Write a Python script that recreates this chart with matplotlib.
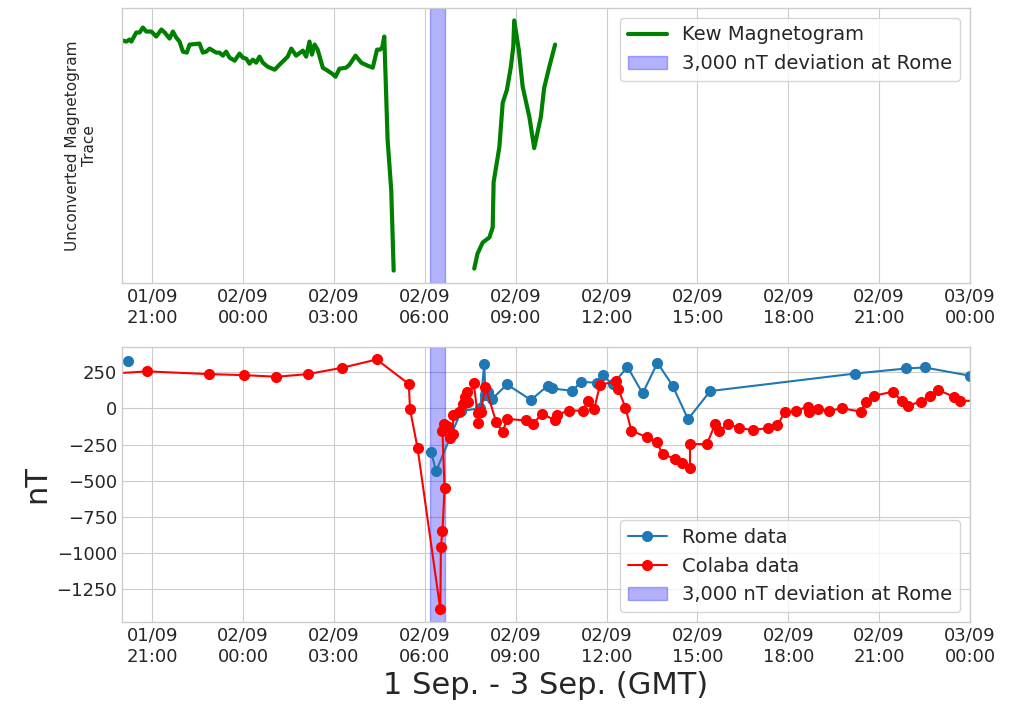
import datetime as dt
import numpy as np
import matplotlib
matplotlib.use('Agg')
import matplotlib.pyplot as plt
import matplotlib.dates as mdates
from matplotlib.ticker import MultipleLocator

# times are hours after 1 Sep 1859 00:00 GMT
kew_hours = [20.03, 20.14, 20.25, 20.31, 20.38, 20.47, 20.58, 20.69, 20.80, 20.97,
             21.13, 21.30, 21.41, 21.57, 21.68, 21.79, 21.90, 22.01, 22.14, 22.23,
             22.56, 22.67, 22.78, 22.89, 23.11, 23.22, 23.33, 23.44, 23.55, 23.72,
             23.88, 23.99, 24.10, 24.21, 24.32, 24.43, 24.54, 24.65, 24.81, 25.04,
             25.20, 25.37, 25.47, 25.59, 25.75, 25.97, 26.08, 26.19, 26.27, 26.36,
             26.46, 26.63, 26.79, 26.94, 27.05, 27.18, 27.40, 27.51, 27.71, 27.90,
             28.11, 28.28, 28.42, 28.52, 28.59, 28.66, 28.77, 28.89, 28.97,
             30.0,
             31.63, 31.74, 31.91, 32.13, 32.24, 32.27, 32.46, 32.57, 32.71, 32.84,
             32.92, 32.95, 33.10, 33.23, 33.45, 33.61, 33.83, 33.94, 34.11, 34.30]
kew_trace = [242, 241, 243, 241, 245, 250, 250, 255, 251, 251,
             246, 253, 250, 244, 251, 245, 241, 231, 230, 238,
             239, 230, 231, 234, 230, 230, 227, 231, 225, 222,
             229, 225, 224, 219, 223, 220, 226, 220, 216, 213,
             218, 223, 226, 234, 227, 232, 226, 241, 228, 238,
             233, 215, 212, 209, 206, 214, 215, 218, 227, 220,
             217, 215, 233, 233, 235, 246, 143, 93, 13,
             np.nan,
             15, 30, 41, 46, 56, 101, 136, 180, 193, 216,
             236, 262, 233, 196, 166, 135, 166, 195, 216, 238]

rome_hours = [19.6, 20.20, 25.0,
              30.21, 30.37, 31.20, 31.83, 31.96, 32.00, 32.07, 32.22, 32.71,
              33.50, 34.05, 34.20, 34.86, 35.17, 35.68, 35.87, 36.20, 36.69,
              37.19, 37.68, 38.18, 38.69, 39.42, 44.20, 45.90, 46.50, 48.0]
rome_nT = [335, 325, np.nan,
           -304, -435, -18, 0, 309, 92, 115, 64, 165,
           58, 154, 137, 121, 183, 176, 229, 165, 286,
           103, 314, 156, -75, 119, 240, 275, 282, 225]

colaba_hours = [19.0, 20.84, 22.88, 24.04, 25.10, 26.13, 27.27, 28.41, 29.47, 29.51,
                29.76, 30.51, 30.53, 30.58, 30.65, 30.58, 30.62, 30.73, 30.84, 30.92,
                30.94, 31.14, 31.25, 31.34, 31.38, 31.41, 31.61, 31.74, 31.76, 31.85,
                32.00, 32.35, 32.57, 32.71, 33.34, 33.56, 33.87, 34.31, 34.35, 34.75,
                35.21, 35.40, 35.59, 35.78, 36.31, 36.39, 36.62, 36.82, 37.33, 37.65,
                37.85, 38.27, 38.49, 38.75, 38.76, 39.31, 39.59, 39.72, 40.01, 40.38,
                40.82, 41.34, 41.64, 41.89, 42.25, 42.66, 42.69, 42.99, 43.35, 43.77,
                44.40, 44.56, 44.83, 45.46, 45.74, 45.96, 46.37, 46.67, 46.95, 47.47,
                47.67, 48.3]
colaba_nT = [231, 255, 236, 229, 218, 236, 280, 337, 168, -7,
             -275, -1389, -955, -847, -552, -160, -107, -124, -204, -180,
             -43, -23, 32, 80, 115, 46, 172, -34, -103, -23,
             149, -92, -165, -73, -84, -110, -38, -84, -45, -16,
             -16, 53, -7, 161, 188, 133, 5, -155, -199, -233,
             -316, -350, -378, -412, -247, -247, -107, -160, -107, -137,
             -149, -137, -114, -27, -16, 12, -27, -7, -18, 0,
             -23, 46, 87, 115, 51, 19, 46, 87, 126, 80,
             53, 50]

span_hours = (30.16, 30.68)
start_hour, end_hour = 20.0, 48.0

base = dt.datetime(1859, 9, 1)


def to_time(hours):
    return [base + dt.timedelta(hours=h) for h in hours]


plt.style.use('seaborn-v0_8-whitegrid')
plt.rcParams['font.family'] = ['DejaVu Sans']
fig = plt.figure(figsize=(10.1, 7.06), dpi=100)
ax1 = fig.add_axes([0.1208, 0.599, 0.8396, 0.3897])
ax2 = fig.add_axes([0.1208, 0.119, 0.8396, 0.3895])

span = to_time(span_hours)
xlim = to_time([start_hour, end_hour])

ax1.plot(to_time(kew_hours), kew_trace, color='green', linewidth=3,
         label='Kew Magnetogram')
ax1.axvspan(span[0], span[1], color='blue', alpha=0.3,
            label='3,000 nT deviation at Rome')
ax1.set_yticks([])
ax1.set_ylabel('Unconverted Magnetogram\nTrace', fontsize=11, labelpad=18)
ax1.legend(loc='upper right', fontsize=14, frameon=True)

ax2.plot(to_time(rome_hours), rome_nT, '-o', color='#1f77b4', markersize=7,
         linewidth=1.5, label='Rome data')
ax2.plot(to_time(colaba_hours), colaba_nT, '-o', color='red', markersize=7,
         linewidth=1.5, label='Colaba data')
ax2.axvspan(span[0], span[1], color='blue', alpha=0.3,
            label='3,000 nT deviation at Rome')
ax2.yaxis.set_major_locator(MultipleLocator(250))
ax2.set_ylabel('nT', fontsize=22)
ax2.set_xlabel('1 Sep. - 3 Sep. (GMT)', fontsize=22)
ax2.legend(loc='lower right', fontsize=14, frameon=True)

for ax in (ax1, ax2):
    ax.set_xlim(xlim)
    ax.xaxis.set_major_locator(mdates.HourLocator(byhour=range(0, 24, 3)))
    ax.xaxis.set_major_formatter(mdates.DateFormatter('%d/%m\n%H:%M'))
    ax.tick_params(labelsize=13)

fig.savefig('out.png', dpi=100)
plt.close(fig)
